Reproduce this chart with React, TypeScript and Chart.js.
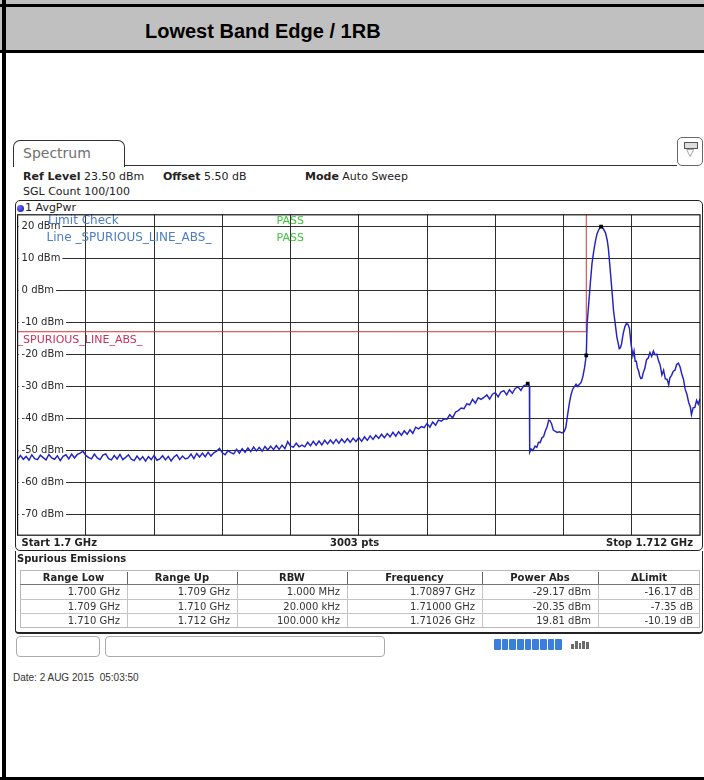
import React, { useEffect, useRef } from "react";
import { Chart, registerables } from "chart.js";

Chart.register(...registerables);

// ---------- data ----------
const TITLE = "Lowest Band Edge / 1RB";
const X_START_MHZ = 1700;
const X_STOP_MHZ = 1712;
const REF_LEVEL = 23.5;
const Y_BOTTOM = -76.5;

// averaged trace, 1.700 – 1.709 GHz, one value every 0.05 MHz
const NOISE_START_MHZ = 1700;
const NOISE_STEP_MHZ = 0.05;
const NOISE_LEVELS = [
  -52.9, -51.6, -52.8, -51.9, -53.1, -51.4, -52.6, -52.9, -51.5, -52.3, -53.0, -51.3, -52.4, -52.8, -51.7, -53.2, -51.9, -51.4, -52.7, -51.2,
  -52.4, -51.3, -50.9, -50.3, -51.6, -52.3, -52.7, -51.2, -52.4, -52.9, -51.5, -51.1, -52.6, -53.0, -51.6, -52.7, -51.3, -52.9, -52.2, -51.4,
  -52.8, -53.2, -51.8, -53.0, -52.0, -53.4, -52.0, -52.9, -51.6, -53.1, -52.7, -51.7, -53.0, -51.9, -53.3, -52.1, -51.4, -52.9, -51.8, -52.7,
  -52.4, -51.2, -52.6, -51.0, -52.1, -50.9, -52.0, -50.6, -51.8, -50.8, -50.3, -49.4, -50.8, -51.4, -50.1, -50.7, -51.1, -49.7, -50.9, -49.5,
  -50.6, -49.3, -50.4, -49.0, -50.2, -49.1, -50.3, -48.8, -49.9, -48.7, -49.8, -48.5, -49.7, -48.4, -49.5, -47.3, -48.7, -49.0, -47.8, -48.9,
  -48.4, -48.9, -47.5, -48.6, -47.2, -48.4, -47.1, -48.3, -46.9, -48.0, -46.8, -47.9, -46.6, -47.8, -46.5, -47.6, -46.4, -47.5, -46.2, -47.3,
  -46.0, -47.2, -45.8, -46.9, -45.5, -46.6, -45.3, -46.3, -45.0, -46.1, -44.8, -45.8, -44.4, -45.6, -44.2, -45.3, -43.9, -45.0, -43.6, -44.7,
  -42.8, -43.3, -42.6, -42.9, -41.6, -42.8, -41.2, -42.2, -40.6, -40.9, -40.2, -40.3, -38.9, -39.9, -38.1, -37.6, -36.8, -37.0, -35.5, -35.8,
  -34.1, -35.3, -33.6, -34.1, -33.5, -32.7, -34.0, -32.5, -32.0, -33.3, -31.8, -31.4, -32.7, -31.1, -32.2, -30.7, -30.2, -31.3, -29.8, -29.6,
];

// averaged trace, 1.70897 – 1.712 GHz (MHz, dBm)
const TRACE_FREQS = [
  1708.97, 1709.0, 1709.005, 1709.03, 1709.06, 1709.1, 1709.13, 1709.16, 1709.19, 1709.22,
  1709.25, 1709.28, 1709.31, 1709.34, 1709.36, 1709.39, 1709.42, 1709.45, 1709.49, 1709.53,
  1709.57, 1709.61, 1709.64, 1709.67, 1709.7, 1709.73, 1709.76, 1709.79, 1709.82, 1709.85,
  1709.88, 1709.91, 1709.94, 1709.97, 1710.0, 1710.015, 1710.04, 1710.07, 1710.1, 1710.13,
  1710.16, 1710.19, 1710.22, 1710.26, 1710.3, 1710.34, 1710.37, 1710.39, 1710.42, 1710.45,
  1710.48, 1710.51, 1710.54, 1710.56, 1710.58, 1710.6, 1710.62, 1710.65, 1710.68, 1710.71,
  1710.74, 1710.76, 1710.79, 1710.82, 1710.84, 1710.86, 1710.88, 1710.9, 1710.92, 1710.94,
  1710.96, 1710.98, 1711.0, 1711.03, 1711.06, 1711.09, 1711.12, 1711.15, 1711.18, 1711.21,
  1711.24, 1711.27, 1711.3, 1711.33, 1711.36, 1711.39, 1711.42, 1711.45, 1711.47, 1711.5,
  1711.53, 1711.56, 1711.59, 1711.62, 1711.65, 1711.68, 1711.71, 1711.74, 1711.77, 1711.8,
  1711.83, 1711.85, 1711.88, 1711.91, 1711.94, 1711.97, 1712.0,
];
const TRACE_LEVELS = [
  -29.17, -29.9, -50.6, -49.6, -50.1, -48.7, -49.1, -47.5, -47.6, -46.1,
  -45.7, -44.0, -42.7, -40.6, -40.7, -41.7, -43.7, -44.0, -44.4, -44.2,
  -44.6, -44.2, -42.9, -39.2, -35.6, -32.8, -31.0, -30.1, -29.4, -30.1,
  -29.4, -28.8, -27.0, -24.2, -20.35, -10.5, -5.0, 1.8, 8.2, 12.0,
  15.2, 17.6, 18.9, 19.81, 19.2, 17.8, 15.4, 12.8, 6.6, 0.2,
  -6.5, -10.6, -14.9, -16.5, -18.3, -18.0, -16.8, -13.5, -11.4, -10.3,
  -10.9, -12.0, -17.2, -20.5, -19.0, -22.2, -22.2, -24.3, -25.2, -26.8,
  -27.6, -27.5, -25.9, -24.4, -21.7, -21.2, -19.5, -20.7, -19.0, -20.2,
  -20.0, -22.0, -23.4, -26.5, -25.0, -27.7, -27.8, -29.6, -27.4, -26.6,
  -25.3, -25.0, -23.2, -22.8, -24.0, -26.2, -27.9, -31.0, -32.5, -35.0,
  -36.5, -38.9, -36.7, -36.6, -34.4, -35.6, -33.9,
];

const LIMIT_FREQS = [1700, 1710, 1710, 1712];
const LIMIT_LEVELS = [-13, -13, 30, 30];

const MARKER_FREQS = [1708.97, 1710.0, 1710.26];
const MARKER_LEVELS = [-29.17, -20.35, 19.81];

const X_GRID = [1701.2, 1702.4, 1703.6, 1704.8, 1706.0, 1707.2, 1708.4, 1709.6, 1710.8];
const Y_TICKS = [20, 10, 0, -10, -20, -30, -40, -50, -60, -70];
const Y_TICK_LABELS = ["20 dBm", "10 dBm", "0 dBm", "-10 dBm", "-20 dBm", "-30 dBm", "-40 dBm", "-50 dBm", "-60 dBm", "-70 dBm"];

const TABLE_HEADERS = ["Range Low", "Range Up", "RBW", "Frequency", "Power Abs", "\u0394Limit"];
const RANGE_LOW = ["1.700 GHz", "1.709 GHz", "1.710 GHz"];
const RANGE_UP = ["1.709 GHz", "1.710 GHz", "1.712 GHz"];
const RBW = ["1.000 MHz", "20.000 kHz", "100.000 kHz"];
const PEAK_FREQ = ["1.70897 GHz", "1.71000 GHz", "1.71026 GHz"];
const POWER_ABS = ["-29.17 dBm", "-20.35 dBm", "19.81 dBm"];
const DELTA_LIMIT = ["-16.17 dB", "-7.35 dB", "-10.19 dB"];

// ---------- layout constants ----------
const DV = '"DejaVu Sans", Verdana, sans-serif';
const AR = '"Liberation Sans", Arial, sans-serif';
const COL_EDGES = [20, 127, 237, 347, 482, 598, 700];
const ROW_TOPS = [584, 598.5, 613];

const overlayPlugin = {
  id: "overlay",
  beforeDatasetsDraw(chart: any) {
    const { ctx, chartArea: a, scales } = chart;
    const y = scales.y;
    ctx.save();
    ctx.font = `10px ${DV}`;
    ctx.textBaseline = "middle";
    Y_TICKS.forEach((v, i) => {
      const py = y.getPixelForValue(v);
      const label = Y_TICK_LABELS[i];
      const w = ctx.measureText(label).width;
      ctx.fillStyle = "#ffffff";
      ctx.fillRect(a.left + 1, py - 6, w + 5, 12);
      ctx.fillStyle = "#262626";
      ctx.fillText(label, a.left + 4, py);
    });
    // limit line name
    ctx.font = `11px ${DV}`;
    ctx.fillStyle = "#c8325a";
    ctx.fillText("_SPURIOUS_LINE_ABS_", a.left, y.getPixelForValue(LIMIT_LEVELS[0]) + 8);
    ctx.restore();
  },
  afterDatasetsDraw(chart: any) {
    const { ctx, chartArea: a } = chart;
    ctx.save();
    ctx.textBaseline = "middle";
    ctx.font = `12px ${DV}`;
    ctx.fillStyle = "#4a7cc8";
    ctx.fillText("Limit Check", a.left + 30.5, a.top + 6.5);
    ctx.fillText("Line _SPURIOUS_LINE_ABS_", a.left + 29, a.top + 23);
    ctx.font = `11px ${DV}`;
    ctx.fillStyle = "#3cc83c";
    ctx.fillText("PASS", a.left + 259, a.top + 6.5);
    ctx.fillText("PASS", a.left + 259, a.top + 23);
    ctx.strokeStyle = "#111111";
    ctx.lineWidth = 1.2;
    ctx.strokeRect(a.left, a.top, a.right - a.left, a.bottom - a.top);
    ctx.restore();
  },
};

function SpectrumChart() {
  const ref = useRef<HTMLCanvasElement | null>(null);
  useEffect(() => {
    if (!ref.current) return;
    const trace: { x: number; y: number }[] = NOISE_LEVELS.map((v, i) => ({
      x: NOISE_START_MHZ + i * NOISE_STEP_MHZ,
      y: v,
    }));
    TRACE_FREQS.forEach((f, i) => trace.push({ x: f, y: TRACE_LEVELS[i] }));
    const limit = LIMIT_FREQS.map((f, i) => ({ x: f, y: LIMIT_LEVELS[i] }));
    const markers = MARKER_FREQS.map((f, i) => ({ x: f, y: MARKER_LEVELS[i] }));
    const gridOpts = { color: "#2e2e2e", lineWidth: 1, drawTicks: false };
    const chart = new Chart(ref.current, {
      type: "line",
      data: {
        datasets: [
          {
            data: markers,
            showLine: false,
            pointStyle: "rect",
            pointRadius: 2.6,
            pointBackgroundColor: "#000",
            pointBorderColor: "#000",
            pointBorderWidth: 0,
            order: 0,
          },
          {
            data: trace,
            borderColor: "#2222c6",
            borderWidth: 1.45,
            pointRadius: 0,
            tension: 0,
            order: 1,
          },
          {
            data: limit,
            borderColor: "#d23434",
            borderWidth: 1,
            pointRadius: 0,
            tension: 0,
            order: 2,
          },
        ],
      },
      options: {
        animation: false,
        responsive: false,
        maintainAspectRatio: false,
        events: [],
        layout: { padding: { left: 5.6, top: 9.8, right: 2.4, bottom: 9.8 } },
        plugins: { legend: { display: false }, tooltip: { enabled: false } },
        scales: {
          x: {
            type: "linear",
            min: X_START_MHZ,
            max: X_STOP_MHZ,
            afterBuildTicks: (s: any) => {
              s.ticks = X_GRID.map((v) => ({ value: v }));
            },
            ticks: { display: false },
            grid: gridOpts,
            border: { display: false },
          },
          y: {
            type: "linear",
            min: Y_BOTTOM,
            max: REF_LEVEL,
            afterBuildTicks: (s: any) => {
              s.ticks = Y_TICKS.map((v) => ({ value: v }));
            },
            ticks: { display: false },
            grid: gridOpts,
            border: { display: false },
          },
        },
      },
      plugins: [overlayPlugin],
    } as any);
    return () => chart.destroy();
  }, []);
  return (
    <canvas
      ref={ref}
      width={692}
      height={340}
      style={{ position: "absolute", left: 12, top: 205, width: 692, height: 340 }}
    />
  );
}

const abs = (s: React.CSSProperties): React.CSSProperties => ({ position: "absolute", ...s });

function Text({ x, y, children, style }: { x: number; y: number; children: React.ReactNode; style?: React.CSSProperties }) {
  return (
    <div style={abs({ left: x, top: y - 8, height: 16, lineHeight: "16px", whiteSpace: "pre", ...style })}>
      {children}
    </div>
  );
}

export default function App() {
  const rows = [0, 1, 2].map((i) => [RANGE_LOW[i], RANGE_UP[i], RBW[i], PEAK_FREQ[i], POWER_ABS[i], DELTA_LIMIT[i]]);
  return (
    <div
      style={abs({
        left: 0,
        top: 0,
        width: 704,
        height: 780,
        background: "#fff",
        overflow: "hidden",
        fontFamily: DV,
        fontSize: 11,
        color: "#222",
      })}
    >
      {/* outer frame and title */}
      <div style={abs({ left: 0, top: 0, width: 704, height: 4, background: "#c0c0c0" })} />
      <div style={abs({ left: 0, top: 4, width: 704, height: 3, background: "#000" })} />
      <div style={abs({ left: 0, top: 7, width: 704, height: 43, background: "#c0c0c0" })} />
      <div style={abs({ left: 0, top: 50, width: 704, height: 3, background: "#000" })} />
      <div
        style={abs({
          left: 145,
          top: 21,
          fontFamily: AR,
          fontWeight: "bold",
          fontSize: 20,
          lineHeight: "20px",
          color: "#000",
          whiteSpace: "pre",
        })}
      >
        {TITLE}
      </div>
      <div style={abs({ left: 2, top: 0, width: 4, height: 780, background: "#000" })} />
      <div style={abs({ left: 0, top: 777, width: 704, height: 3, background: "#000" })} />

      {/* spectrum tab header */}
      <div
        style={abs({
          left: 13,
          top: 140,
          width: 110,
          height: 26,
          border: "1.5px solid #333",
          borderBottom: "none",
          borderRadius: "7px 7px 0 0",
          background: "#fff",
        })}
      />
      <div style={abs({ left: 124, top: 164.5, width: 553, height: 1.5, background: "#333" })} />
      <Text x={23} y={152.5} style={{ fontSize: 14, color: "#707070" }}>Spectrum</Text>
      <div
        style={abs({
          left: 677,
          top: 137,
          width: 24,
          height: 27,
          border: "1px solid #666",
          borderRadius: 5,
          background: "#fff",
        })}
      >
        <div style={abs({ left: 6, top: 4, width: 12, height: 5, border: "1px solid #555", background: "#ddd" })} />
        <div style={abs({ left: 5, top: 9, width: 14, textAlign: "center", fontSize: 10, lineHeight: "12px", color: "#555" })}>
          {"\u25BD"}
        </div>
      </div>

      <Text x={23} y={176.5}>
        <b>Ref Level</b> 23.50 dBm
      </Text>
      <Text x={163} y={176.5}>
        <b>Offset</b> 5.50 dB
      </Text>
      <Text x={305} y={176.5}>
        <b>Mode</b> Auto Sweep
      </Text>
      <Text x={23} y={191.5}>SGL Count 100/100</Text>

      {/* diagram box */}
      <div
        style={abs({
          left: 15,
          top: 200,
          width: 686,
          height: 349,
          border: "1.5px solid #222",
          borderRadius: 5,
          background: "#fff",
        })}
      />
      <div
        style={abs({
          left: 17,
          top: 204.5,
          width: 7,
          height: 7,
          borderRadius: "50%",
          background: "radial-gradient(circle at 35% 35%, #6a6aff, #1010b0)",
        })}
      />
      <Text x={25} y={208}>1 AvgPwr</Text>
      <SpectrumChart />
      <Text x={21.5} y={543} style={{ fontSize: 10, fontWeight: "bold" }}>Start 1.7 GHz</Text>
      <Text x={330} y={543} style={{ fontSize: 10, fontWeight: "bold" }}>3003 pts</Text>
      <div
        style={abs({
          left: 500,
          width: 193,
          top: 535,
          height: 16,
          lineHeight: "16px",
          textAlign: "right",
          fontSize: 10,
          fontWeight: "bold",
        })}
      >
        Stop 1.712 GHz
      </div>

      {/* spurious emissions table */}
      <div
        style={abs({
          left: 15,
          top: 551,
          width: 686,
          height: 81,
          border: "1.5px solid #222",
          borderTop: "none",
          borderBottom: "2.5px solid #222",
          borderRadius: "0 0 4px 4px",
        })}
      />
      <Text x={17} y={558.5} style={{ fontSize: 10, fontWeight: "bold" }}>Spurious Emissions</Text>
      <div
        style={abs({
          left: COL_EDGES[0],
          top: 570,
          width: COL_EDGES[6] - COL_EDGES[0],
          height: 57.5,
          border: "1px solid #b8b8b8",
          boxSizing: "border-box",
        })}
      />
      <div style={abs({ left: COL_EDGES[0], top: 584, width: COL_EDGES[6] - COL_EDGES[0], height: 1, background: "#777" })} />
      {ROW_TOPS.slice(1).map((t) => (
        <div key={t} style={abs({ left: COL_EDGES[0], top: t, width: COL_EDGES[6] - COL_EDGES[0], height: 1, background: "#c4c4c4" })} />
      ))}
      {COL_EDGES.slice(1, 6).map((x) => (
        <React.Fragment key={x}>
          <div style={abs({ left: x, top: 572, width: 1, height: 12, background: "#666" })} />
          <div style={abs({ left: x, top: 585, width: 1, height: 42, background: "#c4c4c4" })} />
        </React.Fragment>
      ))}
      {TABLE_HEADERS.map((h, c) => (
        <div
          key={h}
          style={abs({
            left: COL_EDGES[c],
            width: COL_EDGES[c + 1] - COL_EDGES[c],
            top: 570,
            height: 14,
            lineHeight: "15px",
            textAlign: "center",
            fontSize: 10,
            fontWeight: "bold",
          })}
        >
          {h}
        </div>
      ))}
      {rows.map((r, ri) =>
        r.map((cell, c) => (
          <div
            key={ri + "-" + c}
            style={abs({
              left: COL_EDGES[c],
              width: COL_EDGES[c + 1] - COL_EDGES[c] - 7,
              top: ROW_TOPS[ri],
              height: 14.5,
              lineHeight: "15px",
              textAlign: "right",
              fontSize: 10,
              color: "#333",
              whiteSpace: "pre",
            })}
          >
            {cell}
          </div>
        ))
      )}

      {/* status bar */}
      <div style={abs({ left: 16, top: 636, width: 82, height: 19, border: "1px solid #aaa", borderRadius: 4 })} />
      <div style={abs({ left: 105, top: 636, width: 278, height: 19, border: "1px solid #aaa", borderRadius: 4 })} />
      <div style={abs({ left: 494, top: 639, width: 68, height: 11, display: "flex", gap: 1 })}>
        {[0, 1, 2, 3, 4, 5, 6, 7, 8].map((k) => (
          <div key={k} style={{ flex: 1, background: "#3b7fdc", borderRadius: 1 }} />
        ))}
      </div>
      <div style={abs({ left: 571, top: 641, width: 18, height: 8, display: "flex", gap: 1, alignItems: "flex-end" })}>
        {[5, 8, 6, 8, 7].map((h, k) => (
          <div key={k} style={{ flex: 1, height: h, background: "#6a6a6a" }} />
        ))}
      </div>

      <Text x={13} y={678} style={{ fontFamily: AR, fontSize: 10, color: "#333" }}>
        {"Date: 2 AUG 2015  05:03:50"}
      </Text>
    </div>
  );
}
